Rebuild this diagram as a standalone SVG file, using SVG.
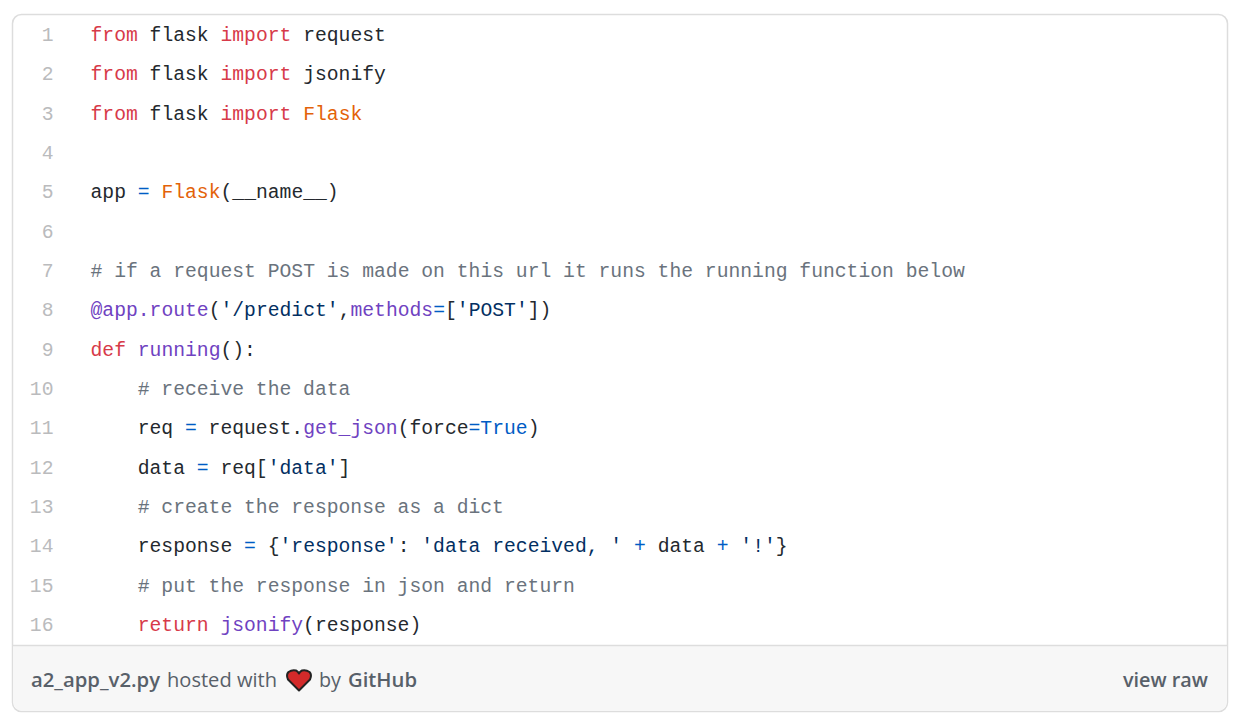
<svg xmlns="http://www.w3.org/2000/svg" width="1240" height="728" viewBox="0 0 1240 728">
<style>
.c{font-family:"Liberation Mono","DejaVu Sans Mono",monospace;font-size:19.7px;fill:#24292e;white-space:pre}
.n{font-family:"Liberation Mono","DejaVu Sans Mono",monospace;font-size:19.7px;fill:#babbbd;text-anchor:end}
.k{fill:#d73a49}.v{fill:#e36209}.f{fill:#6f42c1}.o{fill:#005cc5}.m{fill:#6a737d}.s{fill:#032f62}
.t{font-family:"Open Sans","Noto Sans",sans-serif;font-size:20px;fill:#586069}
.b{font-weight:600}
</style>
<rect width="1240" height="728" fill="#ffffff"/>
<g id="card">
<rect x="12.500" y="14.500" width="1215" height="697" rx="9" fill="#ffffff" stroke="#dddddd" stroke-width="1.500"/>
<path d="M13.250 645.500H1226.750V702a9 9 0 0 1-9 9H22.250a9 9 0 0 1-9-9Z" fill="#f7f7f7"/>
<path d="M12.500 645.500H1227.500" stroke="#dddddd" stroke-width="1.500" fill="none"/>
</g>
<g id="line-numbers">
<text class="n" x="53.500" y="41">1</text>
<text class="n" x="53.500" y="80.300">2</text>
<text class="n" x="53.500" y="119.700">3</text>
<text class="n" x="53.500" y="159">4</text>
<text class="n" x="53.500" y="198.300">5</text>
<text class="n" x="53.500" y="237.700">6</text>
<text class="n" x="53.500" y="277">7</text>
<text class="n" x="53.500" y="316.300">8</text>
<text class="n" x="53.500" y="355.700">9</text>
<text class="n" x="53.500" y="395">10</text>
<text class="n" x="53.500" y="434.300">11</text>
<text class="n" x="53.500" y="473.700">12</text>
<text class="n" x="53.500" y="513">13</text>
<text class="n" x="53.500" y="552.300">14</text>
<text class="n" x="53.500" y="591.700">15</text>
<text class="n" x="53.500" y="631">16</text>
</g>
<g id="code">
<text class="c" x="90.500" y="41"><tspan class="k">from</tspan> flask <tspan class="k">import</tspan> request</text>
<text class="c" x="90.500" y="80.300"><tspan class="k">from</tspan> flask <tspan class="k">import</tspan> jsonify</text>
<text class="c" x="90.500" y="119.700"><tspan class="k">from</tspan> flask <tspan class="k">import</tspan> <tspan class="v">Flask</tspan></text>
<text class="c" x="90.500" y="198.300">app <tspan class="o">=</tspan> <tspan class="v">Flask</tspan>(__name__)</text>
<text class="c m" x="90.500" y="277"># if a request POST is made on this url it runs the running function below</text>
<text class="c" x="90.500" y="316.300"><tspan class="f">@app.route</tspan>(<tspan class="s">'/predict'</tspan>,<tspan class="f">methods</tspan><tspan class="o">=</tspan>[<tspan class="s">'POST'</tspan>])</text>
<text class="c" x="90.500" y="355.700"><tspan class="k">def</tspan> <tspan class="f">running</tspan>():</text>
<text class="c m" x="137.700" y="395"># receive the data</text>
<text class="c" x="137.700" y="434.300">req <tspan class="o">=</tspan> request.<tspan class="f">get_json</tspan>(force<tspan class="o">=</tspan><tspan class="o">True</tspan>)</text>
<text class="c" x="137.700" y="473.700">data <tspan class="o">=</tspan> req[<tspan class="s">'data'</tspan>]</text>
<text class="c m" x="137.700" y="513"># create the response as a dict</text>
<text class="c" x="137.700" y="552.300">response <tspan class="o">=</tspan> {<tspan class="s">'response'</tspan>: <tspan class="s">'data received, '</tspan> <tspan class="o">+</tspan> data <tspan class="o">+</tspan> <tspan class="s">'!'</tspan>}</text>
<text class="c m" x="137.700" y="591.700"># put the response in json and return</text>
<text class="c" x="137.700" y="631"><tspan class="k">return</tspan> <tspan class="f">jsonify</tspan>(response)</text>
</g>
<g id="footer">
<text class="t b" x="31" y="687" textLength="129" lengthAdjust="spacingAndGlyphs">a2_app_v2.py</text>
<text class="t" x="167" y="687" textLength="110" lengthAdjust="spacingAndGlyphs">hosted with</text>
<path id="heart" d="M299 690.500L288 679.500Q285.800 675 288.500 672Q292 669.500 296 670.500Q298 671.500 299 673.500Q300 671.500 302 670.500Q306 669.500 309.500 672Q312.200 675 310 679.500Z" fill="#d32a2a" stroke="#222222" stroke-width="2" stroke-linejoin="round"/>
<text class="t" x="319" y="687" textLength="22" lengthAdjust="spacingAndGlyphs">by</text>
<text class="t b" x="348" y="687" textLength="69" lengthAdjust="spacingAndGlyphs">GitHub</text>
<text class="t b" x="1123" y="687" textLength="85" lengthAdjust="spacingAndGlyphs">view raw</text>
</g>
</svg>
